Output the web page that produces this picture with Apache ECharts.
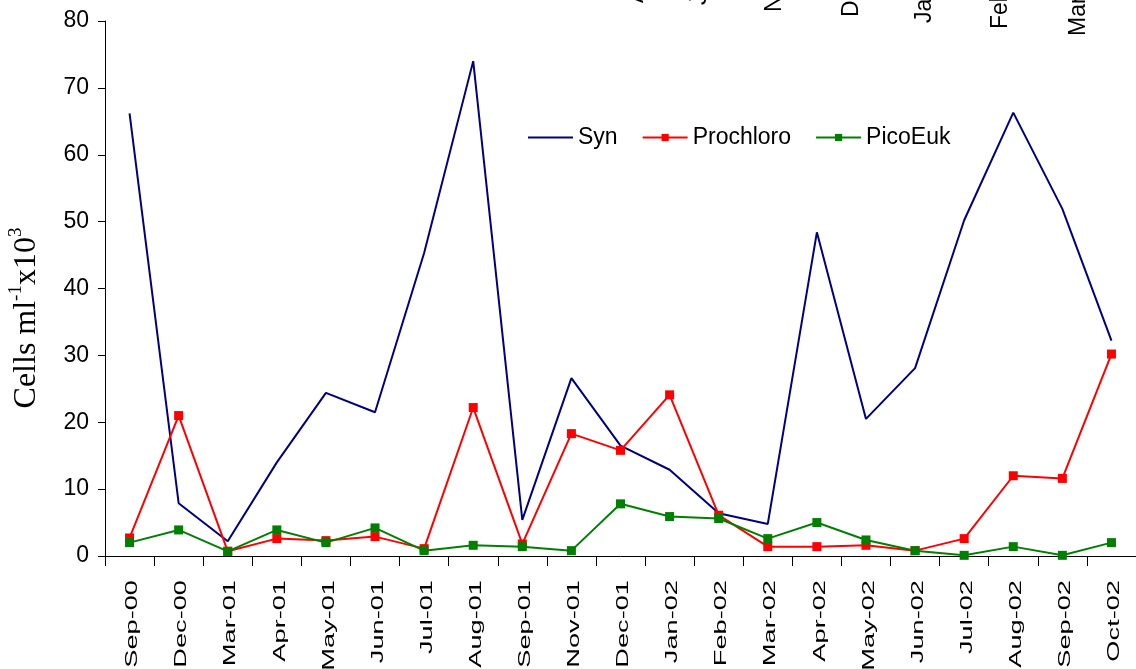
<!DOCTYPE html>
<html><head><meta charset="utf-8">
<script src="https://cdn.jsdelivr.net/npm/echarts@6/dist/echarts.min.js"></script>
<style>html,body{margin:0;padding:0;background:#fff}#c{width:1136px;height:669px}</style>
</head><body><div id="c"></div>
<script>
// ---- data ----
const categories = ['Sep-00','Dec-00','Mar-01','Apr-01','May-01','Jun-01','Jul-01','Aug-01','Sep-01','Nov-01','Dec-01','Jan-02','Feb-02','Mar-02','Apr-02','May-02','Jun-02','Jul-02','Aug-02','Sep-02','Oct-02'];
const synValues       = [66.2, 7.9, 2.2, 14.0, 24.4, 21.5, 45.3, 74.0, 5.4, 26.6, 16.5, 12.9, 6.4, 4.8, 48.4, 20.5, 28.1, 50.2, 66.3, 51.9, 32.2];
const prochloroValues = [2.7, 21.0, 0.7, 2.6, 2.3, 2.9, 1.1, 22.2, 1.8, 18.3, 15.8, 24.1, 6.1, 1.4, 1.4, 1.6, 0.8, 2.6, 12.0, 11.6, 30.2];
const picoEukValues   = [2.0, 3.9, 0.7, 3.9, 2.0, 4.2, 0.8, 1.6, 1.4, 0.8, 7.8, 5.9, 5.6, 2.6, 5.0, 2.4, 0.8, 0.1, 1.4, 0.1, 2.0];
const seriesNames = ['Syn','Prochloro','PicoEuk'];
const yMin = 0, yMax = 80, yStep = 10;
// clipped label fragments visible along the top edge
const topFragments = ['Apr','July','Nov','Dec','Jan','Feb','Mar'];

// ---- layout / style ----
const topFragmentPos = [[637,3],[700,5],[775,12],[852,17],[925,23],[1001,29],[1079,36]];
const SANS = '"Liberation Sans", Arial, sans-serif';
const SERIF = '"Liberation Serif", "Times New Roman", serif';

const chart = echarts.init(document.getElementById('c'));
chart.setOption({
  animation: false,
  backgroundColor: '#ffffff',
  grid: { left: 105, top: 21, width: 1034, height: 535 },
  legend: {
    left: 527, top: 126, padding: 0, itemWidth: 45, itemHeight: 9, itemGap: 24,
    data: [
      { name: seriesNames[0], itemStyle: { opacity: 0 } },
      { name: seriesNames[1] },
      { name: seriesNames[2] }
    ],
    textStyle: { fontSize: 23, fontFamily: SANS, color: '#000' }
  },
  xAxis: {
    type: 'category', data: categories, boundaryGap: true,
    axisLine: { lineStyle: { color: '#000', width: 1 } },
    axisTick: { show: true, length: 10, interval: 0, lineStyle: { color: '#000' } },
    axisLabel: { show: false },
    splitLine: { show: false }
  },
  yAxis: {
    type: 'value', min: yMin, max: yMax, interval: yStep,
    axisLine: { show: true, lineStyle: { color: '#000', width: 1 } },
    axisTick: { show: true, length: 7, lineStyle: { color: '#000' } },
    splitLine: { show: false },
    axisLabel: { fontSize: 23, fontFamily: SANS, color: '#000', margin: 16 }
  },
  series: [
    { name: seriesNames[0], type: 'line', data: synValues, symbol: 'none',
      lineStyle: { color: '#000080', width: 2 }, itemStyle: { color: '#000080' } },
    { name: seriesNames[1], type: 'line', data: prochloroValues, symbol: 'rect', symbolSize: 9,
      lineStyle: { color: '#ff0000', width: 2 }, itemStyle: { color: '#ff0000' } },
    { name: seriesNames[2], type: 'line', data: picoEukValues, symbol: 'rect', symbolSize: 9,
      lineStyle: { color: '#008000', width: 2 }, itemStyle: { color: '#008000' } }
  ]
});

// stretched, rotated category labels positioned through the axis scale
const y0 = chart.convertToPixel({ yAxisIndex: 0 }, 0);
const graphics = categories.map(function (c) {
  const px = chart.convertToPixel({ xAxisIndex: 0 }, c);
  return {
    type: 'text', x: px + 3, y: y0 + 24, rotation: Math.PI / 2, scaleX: 1.6,
    style: { text: c, fontSize: 17, fontFamily: SANS, fill: '#000', textAlign: 'right', textVerticalAlign: 'middle' },
    silent: true
  };
});
topFragments.forEach(function (t, i) {
  graphics.push({
    type: 'text', x: topFragmentPos[i][0], y: topFragmentPos[i][1], rotation: Math.PI / 2,
    style: { text: t, fontSize: 23, fontFamily: SANS, fill: '#000', textAlign: 'left', textVerticalAlign: 'middle' },
    silent: true
  });
});
graphics.push({
  type: 'text', x: 25, y: 318, rotation: Math.PI / 2,
  style: {
    text: '{a|Cells ml}{b|-1}{a|x10}{b|3}',
    textAlign: 'center', textVerticalAlign: 'middle',
    rich: {
      a: { fontSize: 32, fontFamily: SERIF, fill: '#000', lineHeight: 36, verticalAlign: 'bottom' },
      b: { fontSize: 19, fontFamily: SERIF, fill: '#000', lineHeight: 36, verticalAlign: 'top' }
    }
  },
  silent: true
});
chart.setOption({ graphic: graphics });
</script>
</body></html>
